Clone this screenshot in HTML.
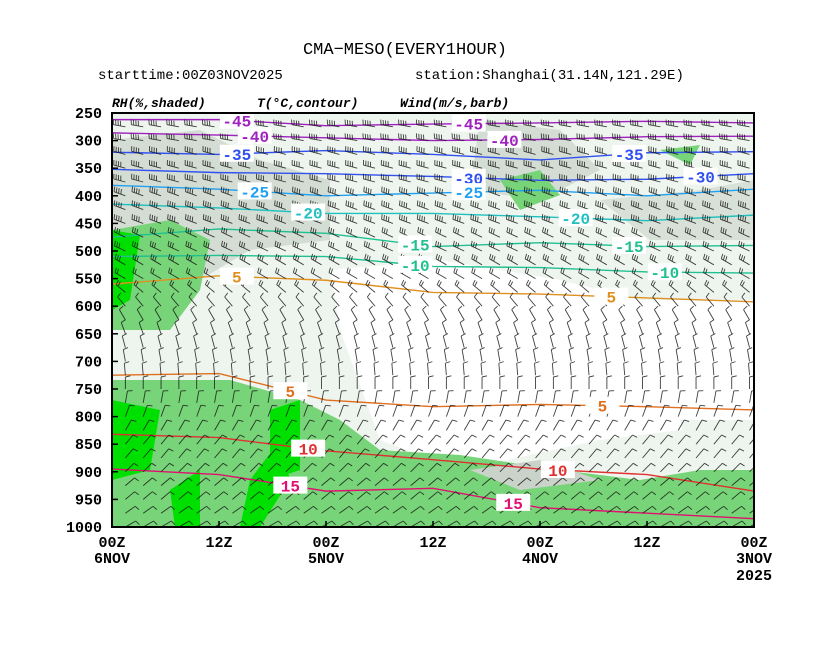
<!DOCTYPE html>
<html><head><meta charset="utf-8"><style>
body{margin:0;background:#fff;}
svg text{font-family:"Liberation Mono",monospace;}
</style></head><body>
<svg id="c" width="831" height="642" xmlns="http://www.w3.org/2000/svg">
<rect width="831" height="642" fill="#fff"/>
<text x="405" y="54" font-size="17" text-anchor="middle">CMA−MESO(EVERY1HOUR)</text>
<text x="98" y="79" font-size="14">starttime:00Z03NOV2025</text>
<text x="415" y="79" font-size="14">station:Shanghai(31.14N,121.29E)</text>
<text x="112" y="107" font-size="13" font-style="italic" font-weight="bold">RH(%,shaded)</text>
<text x="257" y="107" font-size="13" font-style="italic" font-weight="bold">T(°C,contour)</text>
<text x="400" y="107" font-size="13" font-style="italic" font-weight="bold">Wind(m/s,barb)</text>
<defs><clipPath id="pc"><rect x="112" y="113" width="642" height="414"/></clipPath></defs>
<g id="plot" clip-path="url(#pc)">
 <g id="shade">
  <rect x="112" y="113" width="642" height="414" fill="#eef5ee"/>
  <path d="M330 270 L440 260 L560 280 L640 300 L754 300 L754 430 L680 430 L600 440 L460 470 L380 440 L340 330 Z" fill="#fff"/>
  <path d="M112 140 L200 130 L260 160 L330 180 L330 240 L250 250 L200 280 L112 250Z" fill="#c9d3c9" opacity="0.7"/>
  <path d="M480 120 L560 130 L600 170 L540 200 L470 190Z" fill="#c9d3c9" opacity="0.7"/>
  <path d="M600 200 L700 190 L754 180 L754 240 L650 240Z" fill="#c9d3c9" opacity="0.6"/>
  <path d="M112 230 L170 220 L210 240 L200 290 L170 330 L112 330Z" fill="#78d478"/>
  <path d="M112 380 L230 380 L300 400 L340 420 L380 450 L460 455 L560 470 L640 480 L700 470 L754 470 L754 527 L112 527Z" fill="#78d478"/>
  <path d="M112 400 L160 410 L150 470 L112 480Z" fill="#00e000"/>
  <path d="M112 230 L140 235 L130 300 L112 310Z" fill="#00e000"/>
  <path d="M270 410 L300 400 L300 470 L270 480Z" fill="#00e000"/>
  <path d="M250 480 L280 440 L290 480 L260 527 L240 527Z" fill="#00e000"/>
  <path d="M170 490 L200 470 L200 527 L175 527Z" fill="#00e000"/>
  <path d="M500 180 L540 170 L560 195 L520 210Z" fill="#78d478"/>
  <path d="M660 150 L700 145 L690 165Z" fill="#78d478"/>
  <path d="M470 470 L540 460 L600 480 L520 490Z" fill="#c9d3c9"/>
  <path d="M680 420 L754 420 L754 470 L690 460Z" fill="#eef5ee"/>
 </g>
 <g id="temps"></g>
 <g id="barbs" stroke="#111" stroke-width="0.9" fill="none" opacity="0.8"></g>
 <g id="tlabels"></g>
</g>
<rect x="112" y="113" width="642" height="414" fill="none" stroke="#000" stroke-width="2"/>
<g id="axes"></g>
</svg>
<script>
const NS="http://www.w3.org/2000/svg";
const pLevels=[250,300,350,400,450,500,550,600,650,700,750,800,850,900,950,1000];
const xTicks=[0,12,24,36,48,60,72];
const xTickLabels=["00Z","12Z","00Z","12Z","00Z","12Z","00Z"];
const xDateLabels=["6NOV","","5NOV","","4NOV","","3NOV"];
const contourHours=[0,12,24,36,48,60,72];
const tempLevels=[-45,-40,-35,-30,-25,-20,-15,-10,5,5,10,15];
const tempColors=["#a020c0","#a020c0","#3050f0","#3050f0","#20a0f0","#20c0c0","#20c090","#20c090","#e09020","#e07020","#e03030","#e01070"];
const tempP=[
 [262,262,273,270,268,265,268],
 [286,290,295,300,298,293,292],
 [321,325,318,325,335,322,320],
 [352,358,360,365,372,370,360],
 [381,388,400,395,390,400,388],
 [415,422,432,432,438,445,435],
 [475,460,468,492,485,492,490],
 [510,508,510,528,530,538,540],
 [560,545,553,575,578,585,592],
 [725,722,770,782,778,782,788],
 [832,838,862,878,895,905,935],
 [895,905,935,930,965,975,985]
];
const labelHours=[[14,40],[16,44],[14,58],[40,66],[16,40],[22,52],[34,58],[34,62],[14,56],[20,55],[22,50],[20,45]];
const barbLevels=[275,300,325,350,375,400,425,450,475,500,525,550,575,600,625,650,675,700,725,750,775,800,825,850,875,900,925,950,975,1000];
const barbSpeed=[35,38,36,36,34,32,30,28,26,24,22,18,14,10,8,8,8,8,8,9,9,10,10,10,10,10,9,8,7,6];
const barbDir=[280,280,285,285,285,290,290,290,295,295,300,300,310,320,330,340,345,350,355,0,10,20,30,40,40,45,50,50,55,60];
const X=h=>112+h*(642/72);
const Y=p=>113+(p-250)*(414/750);
const interp=(arr,h)=>{const j=Math.min(5,Math.floor(h/12));const f=(h-contourHours[j])/12;return arr[j]*(1-f)+arr[j+1]*f;};
const svg=document.getElementById('c');
const axes=document.getElementById('axes');
function el(t,a,parent){const e=document.createElementNS(NS,t);for(const k in a)e.setAttribute(k,a[k]);parent.appendChild(e);return e;}
pLevels.forEach(p=>{
 const t=el('text',{x:102,y:Y(p)+5,'font-size':15,'font-weight':'bold','text-anchor':'end'},axes);t.textContent=p;
 
 
 const l=el('line',{x1:112,x2:118,y1:Y(p),y2:Y(p),stroke:'#000','stroke-width':1.5},axes);
 
 
});
xTicks.forEach((h,i)=>{
 const x=X(h);
 const t=el('text',{x:x,y:547,'font-size':15,'font-weight':'bold','text-anchor':'middle'},axes);t.textContent=xTickLabels[i];
 
 
 if(xDateLabels[i]){const d=el('text',{x:x,y:563,'font-size':15,'font-weight':'bold','text-anchor':'middle'},axes);d.textContent=xDateLabels[i];
 
 }
 const l=el('line',{x1:x,x2:x,y1:527,y2:521,stroke:'#000','stroke-width':1.5},axes);
 
 
});
const yr=el('text',{x:X(72),y:580,'font-size':15,'font-weight':'bold','text-anchor':'middle'},axes);yr.textContent="2025";


const tg=document.getElementById('temps'),tl=document.getElementById('tlabels');
tempLevels.forEach((v,i)=>{
 const pts=contourHours.map((h,j)=>X(h)+','+Y(tempP[i][j])).join(' ');
 const pl=el('polyline',{points:pts,fill:'none',stroke:tempColors[i],'stroke-width':1.4},tg);
 
 
 labelHours[i].forEach(hx=>{
  const py=interp(tempP[i],hx);
  const r=el('rect',{x:X(hx)-17,y:Y(py)-9,width:34,height:17,fill:'#fff'},tl);
  
  
  const t=el('text',{x:X(hx),y:Y(py)+6,'font-size':16,'font-weight':'bold',fill:tempColors[i],'text-anchor':'middle'},tl);
  t.textContent=v;
  
  
 });
});
const bg=document.getElementById('barbs');
barbLevels.forEach((p,i)=>{
 const y=Y(p);const s=barbSpeed[i];const a=(barbDir[i])*Math.PI/180;
 const L=12;
 for(let h=1.5;h<72;h+=2){
  const x=X(h);
  const dx=Math.sin(a)*L,dy=-Math.cos(a)*L;
  const ex=x+dx,ey=y+dy;
  let d=`M${x},${y}L${ex},${ey}`;
  const nf=Math.min(4,Math.round(s/8));
  for(let k=0;k<nf;k++){
   const f=1-k*0.2;const bx=x+dx*f,by=y+dy*f;
   const px=-dy/L*5,py=dx/L*5;
   d+=`M${bx},${by}l${px+dx*0.1},${py+dy*0.1}`;
  }
  const b=el('path',{d:d},bg);
  
  
 }
});
</script>
</body></html>
